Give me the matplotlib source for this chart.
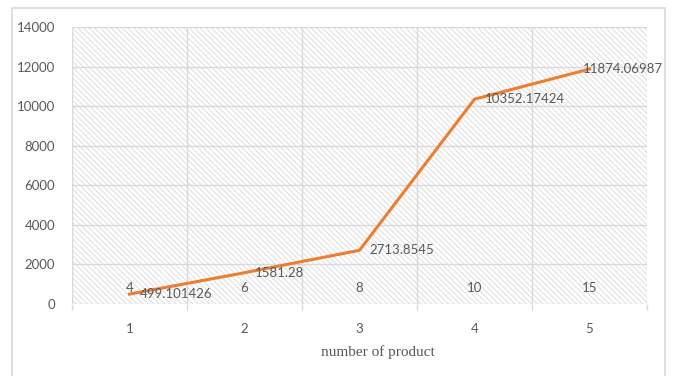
import matplotlib
matplotlib.use("Agg")
import matplotlib.pyplot as plt
from matplotlib.patches import Rectangle

# data
categories = [1, 2, 3, 4, 5]
num_products = [4, 6, 8, 10, 15]
values = [499.101426, 1581.28, 2713.8545, 10352.17424, 11874.06987]
value_labels = ["499.101426", "1581.28", "2713.8545", "10352.17424", "11874.06987"]

W, H = 678, 376
grid_c = "#d9d9d9"
text_c = "#595959"
plt.rcParams["font.family"] = ["Lato", "DejaVu Sans"]
plt.rcParams["hatch.linewidth"] = 0.7

fig = plt.figure(figsize=(W / 100, H / 100), dpi=100)
fig.patch.set_facecolor("white")

# chart border
fig.patches.append(Rectangle((12 / W, -0.05), (665 - 12) / W, 1.05 - 8 / H,
                             transform=fig.transFigure, fill=False,
                             edgecolor=grid_c, linewidth=1.2))

ax = fig.add_axes([72 / W, (H - 304) / H, 575 / W, 277 / H])
ax.set_xlim(0.5, 5.5)
ax.set_ylim(0, 14000)

# hatched plot area
ax.add_patch(Rectangle((0, 0), 1, 1, transform=ax.transAxes, facecolor="white",
                       edgecolor="#dedede", hatch="\\" * 6, linewidth=0, zorder=0))

ax.set_yticks(range(0, 14001, 2000))
ax.set_xticks(categories)
ax.set_xticks([c + 0.5 for c in [0] + categories], minor=True)
ax.grid(axis="y", which="major", color=grid_c, linewidth=1.0, zorder=1)
ax.grid(axis="x", which="minor", color=grid_c, linewidth=1.0, zorder=1)
for s in ax.spines.values():
    s.set_visible(False)
ax.tick_params(axis="y", length=0, pad=12, labelsize=9.5, labelcolor=text_c)
ax.tick_params(axis="x", which="major", length=0, pad=14, labelsize=9.5, labelcolor=text_c)
ax.tick_params(axis="x", which="minor", length=4, width=1.0, color=grid_c)

# number of products series, only its labels are shown
ax.plot(categories, num_products, linestyle="none", marker="none")
for x, n in zip(categories, num_products):
    ax.annotate(str(n), (x, n), xytext=(0, 16), textcoords="offset pixels",
                ha="center", va="center", fontsize=9.5, color=text_c, zorder=4)

ax.plot(categories, values, color="#ED7D31", linewidth=2.2, zorder=3,
        solid_joinstyle="miter")
for i, (x, v) in enumerate(zip(categories, values)):
    dx = -7 if i == len(values) - 1 else 10
    ax.annotate(value_labels[i], (x, v), xytext=(dx, 0), textcoords="offset pixels",
                ha="left", va="center", fontsize=9.5, color=text_c, zorder=4)

fig.text(378 / W, 1 - 352 / H, "number of product", family="Liberation Serif",
         fontsize=11, color=text_c, ha="center", va="center")

fig.savefig("out.png", dpi=100)
